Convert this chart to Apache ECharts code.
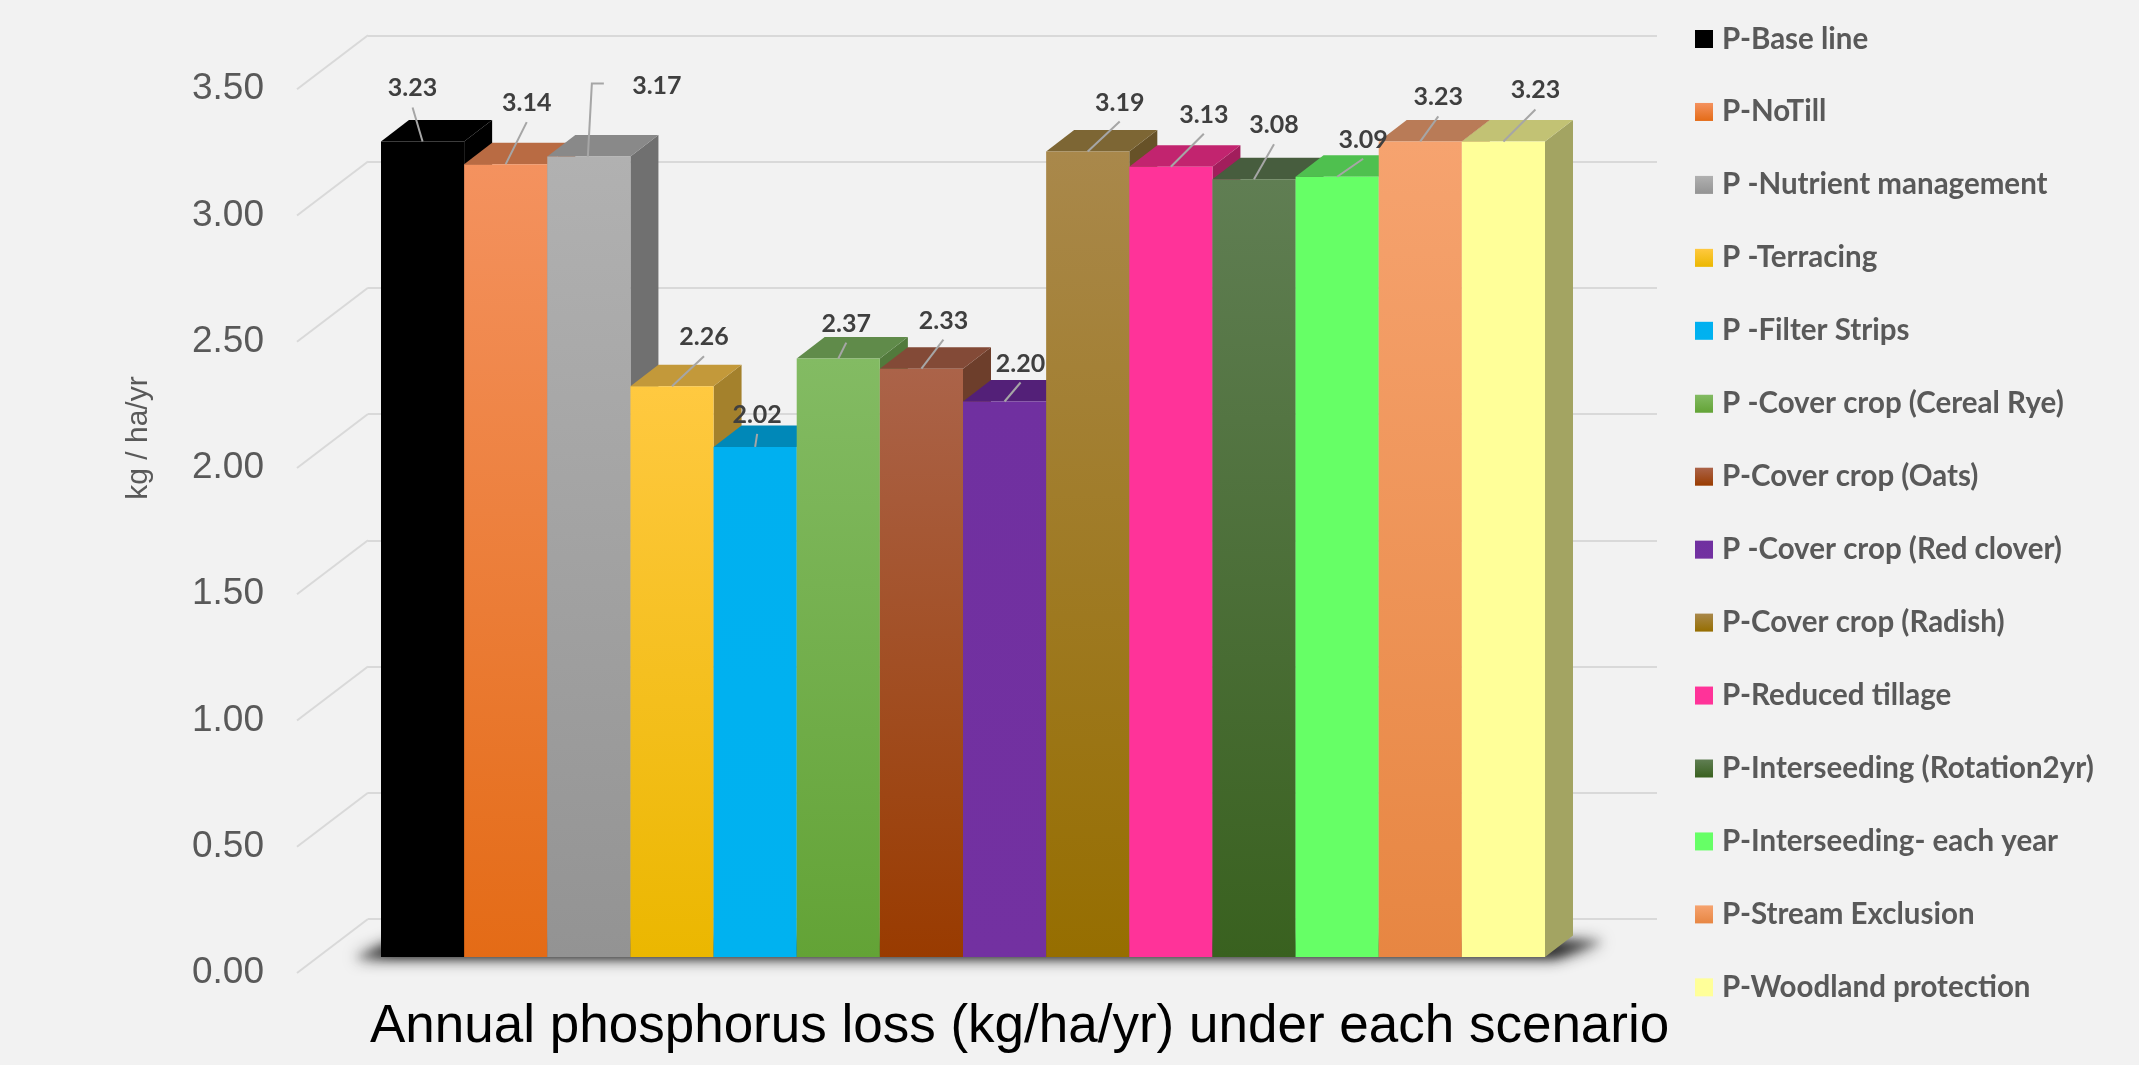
<!DOCTYPE html>
<html>
<head>
<meta charset="utf-8">
<script src="https://cdn.jsdelivr.net/npm/echarts@6/dist/echarts.min.js"></script>
<style>
html,body{margin:0;padding:0;background:#F2F2F2;}
#chart{width:2139px;height:1065px;}
</style>
</head>
<body>
<div id="chart"></div>
<script>
// ---------- DATA ----------
const categories = [
  'P-Base line', 'P-NoTill', 'P -Nutrient management', 'P -Terracing',
  'P -Filter Strips', 'P -Cover crop (Cereal Rye)', 'P-Cover crop (Oats)',
  'P -Cover crop (Red clover)', 'P-Cover crop (Radish)', 'P-Reduced tillage',
  'P-Interseeding (Rotation2yr)', 'P-Interseeding- each year',
  'P-Stream Exclusion', 'P-Woodland protection'
];
const values = [3.23, 3.14, 3.17, 2.26, 2.02, 2.37, 2.33, 2.20, 3.19, 3.13, 3.08, 3.09, 3.23, 3.23];
const yTicks = [0, 0.5, 1, 1.5, 2, 2.5, 3, 3.5];
const yAxisTitle = 'kg / ha/yr';
const chartTitle = 'Annual phosphorus loss (kg/ha/yr) under each scenario';

// ---------- STYLE ----------
const frontTop    = ['#000000','#F4925F','#B1B1B1','#FFC940','#00B0F0','#83BB63','#AB6349','#7030A0','#A9884B','#FF3399','#607E53','#66FF66','#F6A36F','#FFFF99'];
const frontBottom = ['#000000','#E46B16','#939393','#EBB700','#00B2F0','#63A336','#993B00','#7331A1','#966E00','#FF3399','#39611F','#66FF66','#E78642','#FFFF99'];
const topColor    = ['#000000','#B96B43','#898989','#C3993A','#0088B8','#608B4A','#834A37','#532078','#7D6634','#C2246F','#475D3E','#4FC04F','#B97B57','#C2C274'];
const sideColor   = ['#000000','#9C5A37','#707070','#A4812C','#00739C','#527A3C','#6D3E2B','#46196A','#675228','#A21E5C','#3B4E33','#45A545','#9E694A','#A3A462'];
// label nudges relative to the top-centre of each bar's front face
const labelNudge = [[-10,-53],[21,-61],[68,-71],[32,-49],[2,-32],[8,-35],[22,-48],[16,-38],[32,-49],[33,-52],[20,-54],[26,-37],[18,-44],[32,-51]];

const DEPTH = [28, -21.5];           // bar depth projection
const BAR = {left: 381, width: 1164, top: 73.25, height: 883.75};
const WALL = {left: 368, width: 1289, top: 35.25, height: 883.75};
const LAB = {left: 297, width: 71, top: 89.25, height: 883.75};
const WALL_DY = (WALL.top + WALL.height) - (LAB.top + LAB.height);

function grad(a, b) {
  return {type: 'linear', x: 0, y: 0, x2: 0, y2: 1, colorStops: [{offset: 0, color: a}, {offset: 1, color: b}]};
}

function barRender(k) {
  return function (params, api) {
    const cat = api.value(0), v = api.value(1);
    const base = api.coord([cat, 0]);
    const top = api.coord([cat, v]);
    const bw = api.size([1, 0])[0];
    const x0 = base[0] - bw / 2, x1 = base[0] + bw / 2;
    const yT = top[1], yB = base[1];
    const dx = DEPTH[0], dy = DEPTH[1];
    const children = [
      {type: 'polygon', shape: {points: [[x1, yT], [x1 + dx, yT + dy], [x1 + dx, yB + dy], [x1, yB]]},
       style: {fill: sideColor[k]}},
      {type: 'polygon', shape: {points: [[x0, yT], [x1, yT], [x1 + dx, yT + dy], [x0 + dx, yT + dy]]},
       style: {fill: topColor[k]}},
      {type: 'rect', shape: {x: x0, y: yT, width: bw, height: yB - yT},
       style: {fill: grad(frontTop[k], frontBottom[k])}}
    ];
    const n = labelNudge[k];
    const tx = base[0] + n[0], ty = yT + n[1];
    let pts;
    if (n[0] > 50) {
      pts = [[tx - 53, ty - 2], [tx - 65, ty - 2], [base[0] - 1, yT]];
    } else {
      pts = [[tx, ty + 19], [base[0], yT]];
    }
    children.push({type: 'polyline', z2: 100, shape: {points: pts}, style: {stroke: '#A6A6A6', lineWidth: 2, fill: null}});
    children.push({type: 'text', z2: 101, x: tx, y: ty,
      style: {text: v.toFixed(2), fill: '#3F3F3F', font: 'bold 25px Lato, "Liberation Sans", sans-serif',
              align: 'center', verticalAlign: 'middle'}});
    return {type: 'group', children: children};
  };
}

const series = [];
// floor shadow (soft, cast on the floor under the bar block)
series.push({
  type: 'custom', xAxisIndex: 0, yAxisIndex: 0, z: 1, silent: true,
  data: [[0, 0]],
  renderItem: function (params, api) {
    const cs = params.coordSys;
    const yB = api.coord([0, 0])[1];
    const off = 3000;
    const pts = [[cs.x - 26, yB + 1], [cs.x + cs.width + 10, yB + 1],
                 [cs.x + cs.width + DEPTH[0] + 30, yB + DEPTH[1] + 6], [cs.x + DEPTH[0] - 14, yB + DEPTH[1] + 6]]
                 .map(p => [p[0], p[1] - off]);
    const mk = (blur, col) => ({type: 'polygon', shape: {points: pts},
            style: {fill: '#000', shadowBlur: blur, shadowColor: col, shadowOffsetX: 0, shadowOffsetY: off}});
    return {type: 'group', children: [mk(16, 'rgba(0,0,0,0.9)'), mk(8, 'rgba(0,0,0,0.35)')]};
  }
});
for (let k = 0; k < categories.length; k++) {
  series.push({
    type: 'custom', name: categories[k], xAxisIndex: 0, yAxisIndex: 0, z: 3,
    itemStyle: {color: grad(frontTop[k], frontBottom[k])},
    data: [[k, values[k]]],
    renderItem: barRender(k)
  });
}
// 3D gridline diagonals from the label plane to the back wall
series.push({
  type: 'custom', xAxisIndex: 2, yAxisIndex: 2, z: 0, silent: true,
  data: yTicks.map(t => [0, t]),
  renderItem: function (params, api) {
    const t = api.value(1);
    const p0 = api.coord([0, t]);
    const p1 = api.coord([1, t]);
    return {type: 'line', shape: {x1: p0[0], y1: p0[1], x2: p1[0], y2: p0[1] + WALL_DY},
            style: {stroke: '#D9D9D9', lineWidth: 2}};
  }
});

const chart = echarts.init(document.getElementById('chart'), null, {renderer: 'canvas'});
chart.setOption({
  backgroundColor: '#F2F2F2',
  animation: false,
  title: {
    text: chartTitle, left: 370, top: 1001, padding: 0,
    textStyle: {fontSize: 53, fontWeight: 'normal', color: '#000000', fontFamily: '"Liberation Sans", Arial, sans-serif'}
  },
  legend: {
    orient: 'vertical', left: 1695, top: 24, padding: 0,
    itemWidth: 18, itemHeight: 18, itemGap: 42.95, icon: 'rect',
    selectedMode: false,
    textStyle: {fontSize: 29.5, lineHeight: 29, fontWeight: 'bold', color: '#595959',
                fontFamily: 'Lato, "Liberation Sans", sans-serif', padding: [0, 0, 0, 4]},
    data: categories.map((c, k) => ({name: c, itemStyle: {color: grad(frontTop[k], frontBottom[k])}}))
  },
  grid: [
    {left: BAR.left, top: BAR.top, width: BAR.width, height: BAR.height},
    {left: WALL.left, top: WALL.top, width: WALL.width, height: WALL.height},
    {left: LAB.left, top: LAB.top, width: LAB.width, height: LAB.height}
  ],
  xAxis: [
    {gridIndex: 0, type: 'category', data: categories, boundaryGap: true, show: false},
    {gridIndex: 1, type: 'value', min: 0, max: 1, show: false},
    {gridIndex: 2, type: 'value', min: 0, max: 1, show: false}
  ],
  yAxis: [
    {gridIndex: 0, type: 'value', min: 0, max: 3.5, interval: 0.5, show: false},
    {gridIndex: 1, type: 'value', min: 0, max: 3.5, interval: 0.5,
     axisLine: {show: false}, axisTick: {show: false}, axisLabel: {show: false},
     splitLine: {show: true, lineStyle: {color: '#D9D9D9', width: 2}}},
    {gridIndex: 2, type: 'value', min: 0, max: 3.5, interval: 0.5,
     axisLine: {show: false}, axisTick: {show: false}, splitLine: {show: false},
     axisLabel: {show: true, margin: 33, fontSize: 37, color: '#595959',
                 fontFamily: '"Liberation Sans", Arial, sans-serif',
                 formatter: v => v.toFixed(2)}}
  ],
  graphic: [
    {type: 'text', x: 139, y: 438, rotation: Math.PI / 2,
     style: {text: yAxisTitle, fill: '#595959', font: '30px "Liberation Sans", Arial, sans-serif',
             align: 'center', verticalAlign: 'middle'}}
  ],
  series: series
});
</script>
</body>
</html>
